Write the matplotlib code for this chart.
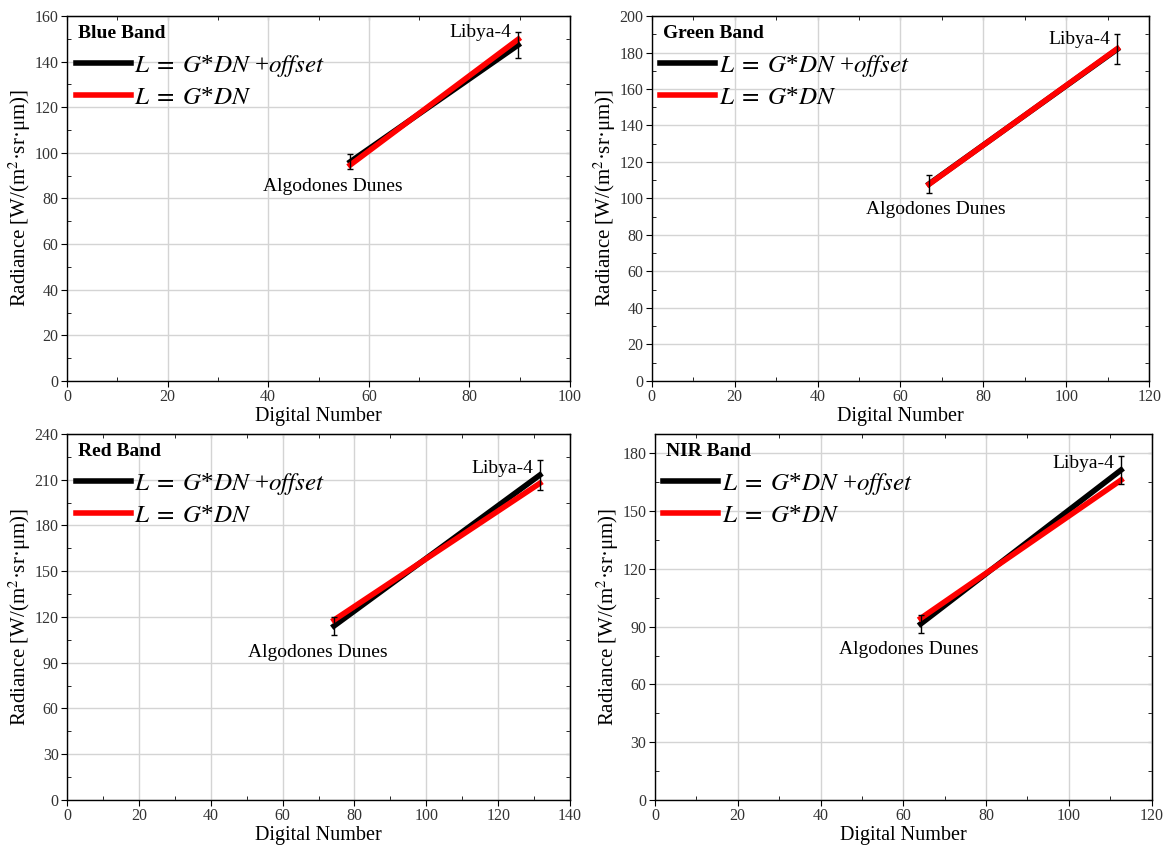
import matplotlib
matplotlib.use("Agg")
import matplotlib.pyplot as plt
from matplotlib.ticker import MultipleLocator

plt.rcParams['font.family'] = ['Liberation Serif', 'DejaVu Serif']
plt.rcParams['mathtext.fontset'] = 'stix'

# digital number at Algodones Dunes / Libya-4, radiance for both fits
bands = ["Blue Band", "Green Band", "Red Band", "NIR Band"]
dn = [[56.3, 89.7], [66.9, 112.3], [74.3, 131.6], [64.2, 112.6]]
rad_offset = [[96.1, 147.3], [108.0, 181.8], [114.1, 213.1], [91.4, 171.3]]
rad_gain = [[94.7, 149.8], [107.8, 182.1], [118.0, 207.7], [94.3, 166.1]]
rad_err = [[3.3, 5.6], [4.9, 8.1], [6.1, 9.6], [4.7, 7.5]]
sites = ["Algodones Dunes", "Libya-4"]

xlims = [100, 120, 140, 120]
ylims = [160, 200, 240, 190]
ysteps = [20, 20, 30, 30]

# layout
boxes = [
    [0.0572, 0.5502, 0.4296, 0.4309],
    [0.5565, 0.5502, 0.4249, 0.4309],
    [0.0572, 0.0555, 0.4296, 0.4321],
    [0.5593, 0.0555, 0.4242, 0.4321],
]
algo_dx = [-17, 7, -16, -12]
libya_dy = [0, -5, -8, -8]

fig = plt.figure(figsize=(11.71, 8.47), dpi=100)

for i in range(4):
    ax = fig.add_axes(boxes[i])
    ax.set_xlim(0, xlims[i])
    ax.set_ylim(0, ylims[i])
    ax.xaxis.set_major_locator(MultipleLocator(20))
    ax.xaxis.set_minor_locator(MultipleLocator(10))
    ax.yaxis.set_major_locator(MultipleLocator(ysteps[i]))
    ax.yaxis.set_minor_locator(MultipleLocator(ysteps[i] / 2))
    ax.grid(True, which='major', color='#d4d4d4', lw=1)
    ax.set_axisbelow(True)
    ax.tick_params(which='major', direction='out', length=4, labelsize=11.5,
                   labelcolor='#333333', pad=2)
    ax.tick_params(which='minor', direction='in', length=3)
    for s in ax.spines.values():
        s.set_linewidth(1)

    top = ax.secondary_xaxis('top')
    top.xaxis.set_major_locator(MultipleLocator(20))
    top.xaxis.set_minor_locator(MultipleLocator(10))
    top.tick_params(which='both', direction='in', labeltop=False, length=3)
    right = ax.secondary_yaxis('right')
    right.yaxis.set_major_locator(MultipleLocator(ysteps[i]))
    right.yaxis.set_minor_locator(MultipleLocator(ysteps[i] / 2))
    right.tick_params(which='both', direction='in', labelright=False, length=3)

    ax.plot(dn[i], rad_offset[i], color='black', lw=4,
            label=r'$L\;=\;G$*$DN$ +$offset$')
    ax.plot(dn[i], rad_gain[i], color='red', lw=4,
            label=r'$L\;=\;G$*$DN$')
    ax.errorbar(dn[i], rad_offset[i], yerr=rad_err[i], fmt='none',
                ecolor='black', elinewidth=1, capsize=2.5, capthick=1)

    lo = rad_offset[i][0] - rad_err[i][0]
    hi = rad_offset[i][1] + rad_err[i][1]
    ax.annotate(sites[0], xy=(dn[i][0], lo), xytext=(algo_dx[i], -17),
                textcoords='offset pixels', ha='center', va='center', fontsize=14)
    ax.annotate(sites[1], xy=(dn[i][1], hi), xytext=(-7, libya_dy[i]),
                textcoords='offset pixels', ha='right', va='center', fontsize=14)

    ax.text(0.022, 0.953, bands[i], transform=ax.transAxes, fontsize=14,
            fontweight='bold', ha='left', va='center')
    ax.legend(loc='upper left', bbox_to_anchor=(0.017, 0.90), frameon=False,
              fontsize=18, handlelength=2.2, handletextpad=0.15,
              borderpad=0, borderaxespad=0, labelspacing=0.3)

    ax.set_xlabel('Digital Number', fontsize=14.5, labelpad=1)
    ax.set_ylabel('Radiance [W/(m$^2$·sr·μm)]', fontsize=15, labelpad=1)

fig.savefig('out.png', dpi=100)
